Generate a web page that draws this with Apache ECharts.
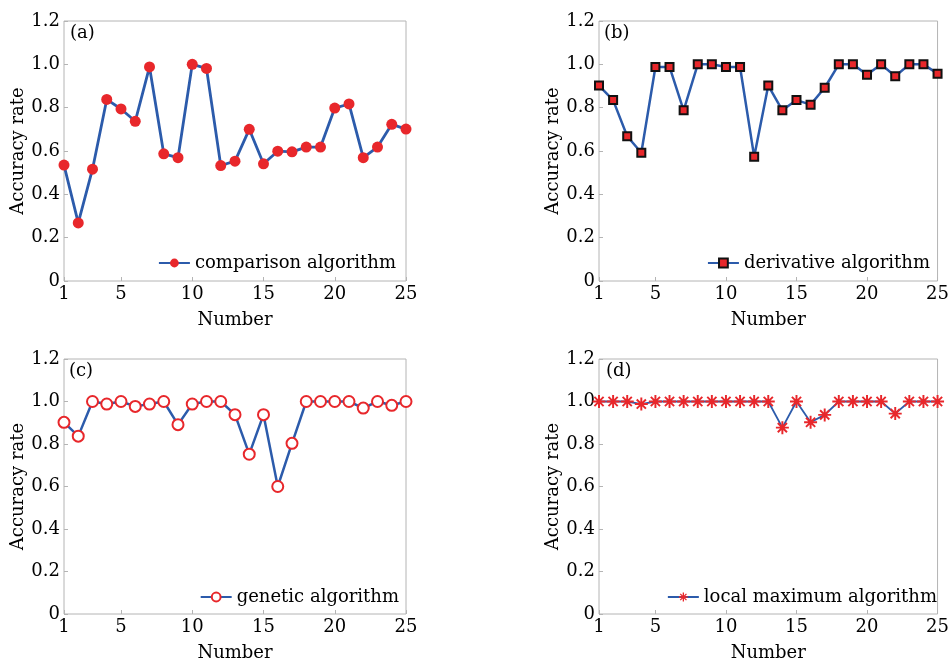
<!DOCTYPE html>
<html>
<head>
<meta charset="utf-8">
<script src="https://cdn.jsdelivr.net/npm/echarts@6/dist/echarts.min.js"></script>
<style>
  html, body { margin: 0; padding: 0; background: #fff; }
  #chart { width: 952px; height: 663px; }
</style>
</head>
<body>
<div id="chart"></div>
<script>
  // sample numbers 1..25
  var numbers = ['1','2','3','4','5','6','7','8','9','10','11','12','13','14','15','16','17','18','19','20','21','22','23','24','25'];
  var shownTicks = [1, 5, 10, 15, 20, 25];

  var comparison = [0.535, 0.268, 0.516, 0.838, 0.794, 0.737, 0.988, 0.587, 0.569, 1.0, 0.981, 0.533, 0.553,
                    0.70, 0.541, 0.599, 0.596, 0.618, 0.618, 0.798, 0.817, 0.569, 0.618, 0.723, 0.701];
  var derivative = [0.902, 0.835, 0.668, 0.592, 0.988, 0.988, 0.788, 1.0, 1.0, 0.988, 0.988, 0.574, 0.902,
                    0.788, 0.835, 0.814, 0.892, 1.0, 1.0, 0.952, 1.0, 0.945, 1.0, 1.0, 0.957];
  var genetic = [0.902, 0.837, 1.0, 0.988, 1.0, 0.977, 0.988, 1.0, 0.891, 0.988, 1.0, 1.0, 0.938,
                 0.752, 0.938, 0.60, 0.803, 1.0, 1.0, 1.0, 1.0, 0.969, 1.0, 0.982, 1.0];
  var localMax = [1.0, 1.0, 1.0, 0.988, 1.0, 1.0, 1.0, 1.0, 1.0, 1.0, 1.0, 1.0, 1.0,
                  0.877, 1.0, 0.902, 0.937, 1.0, 1.0, 1.0, 1.0, 0.943, 1.0, 1.0, 1.0];

  var FONT = 'DejaVu Serif';
  var BLUE = '#2c5bab';
  var RED = '#e8272b';

  // 8-arm asterisk (like matlab '*')
  var asterisk = 'path://M-10,-1.5L10,-1.5L10,1.5L-10,1.5Z' +
    'M-1.5,-10L1.5,-10L1.5,10L-1.5,10Z' +
    'M-8.13,-6.01L-6.01,-8.13L8.13,6.01L6.01,8.13Z' +
    'M-6.01,8.13L-8.13,6.01L6.01,-8.13L8.13,-6.01Z';

  var panels = [
    { tag: '(a)', name: 'comparison algorithm', data: comparison, left: 64, top: 21, width: 342,
      symbol: 'circle', size: 11, item: { color: RED }, lw: 2.8, legRight: 556, legTop: 254, tagX: 70 },
    { tag: '(b)', name: 'derivative algorithm', data: derivative, left: 599, top: 21, width: 341,
      symbol: 'rect', size: 8, item: { color: RED, borderColor: '#111', borderWidth: 2 }, lw: 2.5, legRight: 22, legTop: 254, tagX: 604 },
    { tag: '(c)', name: 'genetic algorithm', data: genetic, left: 64, top: 359, width: 342,
      symbol: 'emptyCircle', size: 11, item: { color: RED, borderColor: RED, borderWidth: 2.5 }, lw: 2.5, legRight: 553, legTop: 588, tagX: 69 },
    { tag: '(d)', name: 'local maximum algorithm', data: localMax, left: 599, top: 359, width: 341,
      symbol: asterisk, size: 13, item: { color: RED }, lw: 1.8, legRight: 15, legTop: 588, tagX: 606 }
  ];

  var grids = [], xAxes = [], yAxes = [], series = [], legends = [], graphics = [];

  panels.forEach(function (p, i) {
    grids.push({ left: p.left, top: p.top, width: p.width, height: 260, show: true,
      borderColor: '#b4b4b4', borderWidth: 1, backgroundColor: '#fff' });
    xAxes.push({
      type: 'category', gridIndex: i, data: numbers, boundaryGap: false,
      name: 'Number', nameLocation: 'middle', nameGap: 30,
      nameTextStyle: { fontFamily: FONT, fontSize: 18, color: '#000' },
      axisLine: { show: false },
      axisTick: { inside: true, length: 4, lineStyle: { color: '#b4b4b4' },
        interval: function (idx) { return shownTicks.indexOf(idx + 1) >= 0; } },
      axisLabel: { fontFamily: FONT, fontSize: 18, color: '#000', margin: 4,
        interval: function (idx) { return shownTicks.indexOf(idx + 1) >= 0; } },
      splitLine: { show: false }
    });
    yAxes.push({
      type: 'value', gridIndex: i, min: 0, max: 1.2, interval: 0.2,
      name: 'Accuracy rate', nameLocation: 'middle', nameGap: 36,
      nameTextStyle: { fontFamily: FONT, fontSize: 18, color: '#000' },
      axisLine: { show: false },
      axisTick: { show: true, inside: true, length: 4, lineStyle: { color: '#b4b4b4' } },
      axisLabel: { fontFamily: FONT, fontSize: 18, color: '#000', margin: 4,
        formatter: function (v) { return v === 0 ? '0' : v.toFixed(1); } },
      splitLine: { show: false }
    });
    series.push({
      name: p.name, type: 'line', xAxisIndex: i, yAxisIndex: i, data: p.data,
      symbol: p.symbol, symbolSize: p.size, showAllSymbol: true,
      lineStyle: { color: BLUE, width: p.lw },
      itemStyle: p.item, z: 3
    });
    legends.push({
      data: [{ name: p.name, itemStyle: p.item }], right: p.legRight, top: p.legTop,
      padding: 0, itemWidth: 31, itemHeight: 11, itemGap: 4, selectedMode: false,
      textStyle: { fontFamily: FONT, fontSize: 18, color: '#000' }
    });
    graphics.push({ type: 'text', left: p.tagX, top: p.top + 3,
      style: { text: p.tag, font: '18px "DejaVu Serif"', fill: '#000' } });
  });

  var chart = echarts.init(document.getElementById('chart'));
  chart.setOption({
    animation: false,
    backgroundColor: '#fff',
    grid: grids,
    xAxis: xAxes,
    yAxis: yAxes,
    legend: legends,
    series: series,
    graphic: graphics
  });
  window.addEventListener('resize', function () { chart.resize(); });
</script>
</body>
</html>
